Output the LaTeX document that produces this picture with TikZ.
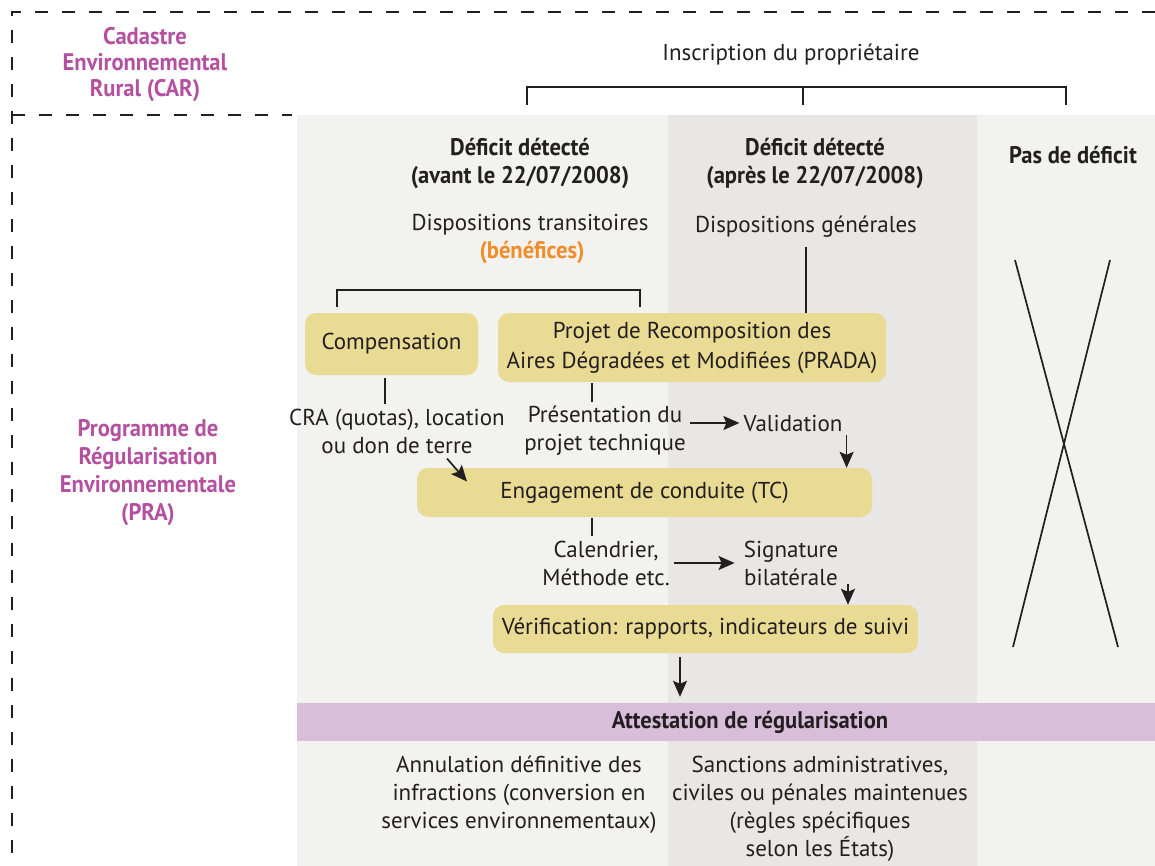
\documentclass[tikz,border=0pt]{standalone}
\usepackage{fontspec}
\setmainfont{PT Sans}
\newfontfamily\headfont[FakeStretch=0.94]{PT Sans Bold}
\usetikzlibrary{arrows.meta}
\definecolor{inkGrey}{HTML}{231F20}
\definecolor{progPurple}{HTML}{B450A0}
\definecolor{benOrange}{HTML}{F28C28}
\definecolor{boxKhaki}{HTML}{E9DA94}
\definecolor{bandLilac}{HTML}{D8BEDA}
\definecolor{panelLight}{HTML}{F2F2F0}
\definecolor{panelDark}{HTML}{E9E7E6}

\begin{document}
\begin{tikzpicture}[x=1pt, y=-1pt, inkGrey,
      txt/.style={align=center, inner sep=4pt, font=\fontsize{23}{28}\selectfont},
      head/.style={align=center, inner sep=2pt, font=\fontsize{24}{28}\selectfont\headfont},
      prog/.style={align=center, inner sep=2pt, text=progPurple, font=\fontsize{24}{26}\selectfont\headfont},
      khaki/.style={fill=boxKhaki, rounded corners=11pt, align=center, inner sep=0pt, font=\fontsize{23}{30}\selectfont},
      conn/.style={line width=1.7pt},
      arr/.style={-{Stealth[length=16pt, width=14pt, inset=3pt]}, line width=1.7pt},
      frame/.style={dash pattern=on 13pt off 14pt, line width=1.6pt}]
    \useasboundingbox (0,0) rectangle (1155,866);
    % columns
    \fill[panelLight] (297,115) rectangle (668,866);
    \fill[panelDark] (668,115) rectangle (977,866);
    \fill[panelLight] (977,115) rectangle (1155,866);
    \draw[frame] (1155,12) -- (12,12) -- (12,866);
    \draw[frame] (12,115) -- (292,115);

    \node[prog] (car) at (145,65) {Cadastre\\ Environnemental\\ Rural (CAR)};
    \node[prog, font=\fontsize{24}{28}\selectfont\headfont] (pra) at (148,473) {Programme de\\ Régularisation\\ Environnementale\\ (PRA)};

    \node[txt] (insc) at (791,55) {Inscription du propriétaire};
    \node[head] (def1) at (520,164) {Déficit détecté\\ (avant le 22/07/2008)};
    \node[head] (def2) at (815,164) {Déficit détecté\\ (après le 22/07/2008)};
    \node[head] (def3) at (1073,155) {Pas de déficit};
    \coordinate (bl) at (527,105); \coordinate (bm) at (803,105); \coordinate (br) at (1066,105);
    \draw[conn] (bl) -- ++(0,-18) -| (br); \draw[conn] (bm) -- ++(0,-18);

    \node[txt] (disp1) at (530,225) {Dispositions transitoires};
    \node[head, text=benOrange] (ben) at (532,253) {(bénéfices)};
    \node[txt] (disp2) at (806,227) {Dispositions générales};
    \coordinate (tl) at (337,307); \coordinate (tr) at (640,307);
    \draw[conn] (tl) -- ++(0,-17) -| (tr);

    \node[khaki, minimum width=173pt, minimum height=62pt] (comp) at (391.5,344) {Compensation};
    \node[khaki, minimum width=388pt, minimum height=69pt] (prada) at (692,347.5) {Projet de Recomposition des\\ Aires Dégradées et Modifiées (PRADA)};
    \draw[conn, shorten <=5pt] (disp2.south) -- (disp2.south |- prada.north);

    \node[txt] (cra) at (397,431) {CRA (quotas), location\\ ou don de terre};
    \node[txt] (pres) at (605,431) {Présentation du\\ projet technique};
    \node[txt] (valid) at (793,423) {Validation};
    \coordinate (cs) at (385,378); \coordinate (ps) at (592,383);
    \draw[conn] (cs) -- (cs |- cra.north); \draw[conn] (ps) -- (ps |- pres.north);
    \draw[arr] (pres.east |- valid) -- (valid.west);

    \node[khaki, minimum width=455pt, minimum height=49pt] (tc) at (644.5,492.5) {Engagement de conduite (TC)};
    \draw[arr] (valid.south east) -- (valid.south east |- tc.north);
    \draw[arr] (cra.south) ++(50,1) -- ++(20,23);

    \node[txt] (cal) at (606,563) {Calendrier,\\ Méthode etc.};
    \node[txt] (sign) at (791,563) {Signature\\ bilatérale};
    \coordinate (ts) at (592,518); \draw[conn] (ts) -- (ts |- cal.north);
    \draw[arr, shorten >=5pt] (cal.east |- sign) -- (sign.west);

    \node[khaki, minimum width=425pt, minimum height=48pt] (verif) at (705.5,629) {Vérification: rapports, indicateurs de suivi};
    \coordinate (sv) at (848,584); \draw[arr] (sv) -- (sv |- verif.north);

    \node[fill=bandLilac, minimum width=858pt, minimum height=38pt, inner sep=0pt, font=\fontsize{24}{28}\selectfont\headfont] (attest) at (726,722) {\hspace*{48pt}Attestation de régularisation};
    \coordinate (va) at (680,0);
    \draw[arr, shorten <=4pt, shorten >=6pt] (verif.south -| va) -- (attest.north -| va);

    \node[txt] (annul) at (519,795) {Annulation définitive des\\ infractions (conversion en\\ services environnementaux)};
    \node[txt] (sanc) at (820,809) {Sanctions administratives,\\ civiles ou pénales maintenues\\ (règles spécifiques\\ selon les États)};

    % no deficit
    \draw[conn] (1015,260) -- (1118,647);
    \draw[conn] (1110,260) -- (1013,647);
  \end{tikzpicture}
\end{document}
